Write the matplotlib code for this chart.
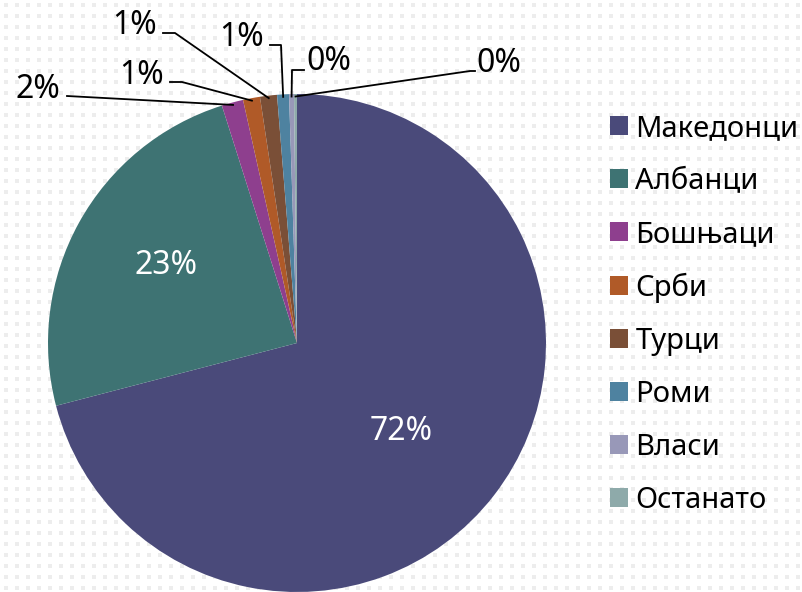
import numpy as np
import matplotlib.pyplot as plt

plt.rcParams['font.family'] = ['Noto Sans', 'DejaVu Sans']

groups = ['Македонци', 'Албанци', 'Бошњаци', 'Срби', 'Турци', 'Роми', 'Власи', 'Останато']
shares = [71.0, 24.2, 1.4, 1.1, 1.1, 0.77, 0.32, 0.19]
pct_labels = ['72%', '23%', '2%', '1%', '1%', '1%', '0%', '0%']
colors = ['#4a4a7a', '#3e7373', '#8e3f8e', '#b05a28', '#7a4f37', '#4e82a0', '#9898b8', '#8eaaaa']

W, H = 802, 592
fig = plt.figure(figsize=(W / 100, H / 100), dpi=100)

# dotted background pattern
bg = np.ones((H, W, 3))
yy, xx = np.mgrid[0:H, 0:W]
dots = ((xx - 4) % 11 < 4) & ((yy - 3) % 11 < 4)
bg[dots] = 0.93
fig.figimage(bg, 0, 0, zorder=-5)

cx, cy, r = 297, 343, 249

def px(x, y):
    # pixel position (from top-left) -> data coords of the pie axes
    return (x - cx) / r, (cy - y) / r

ax = fig.add_axes([(cx - r) / W, (H - cy - r) / H, 2 * r / W, 2 * r / H])
ax.patch.set_alpha(0)

wedges, _ = ax.pie(shares, colors=colors, startangle=90, counterclock=False,
                   radius=1, wedgeprops=dict(linewidth=0))
ax.set_xlim(-1, 1)
ax.set_ylim(-1, 1)
ax.axis('off')
for w in wedges:
    w.set_clip_on(False)

fs = 23

# inside labels
for i, pos in [(0, (401, 432)), (1, (166, 266))]:
    ax.text(*px(*pos), pct_labels[i], color='white', fontsize=fs, ha='center', va='center')

# outside labels: (text anchor, alignment, elbow points)
outside = {
    2: ((60, 89), 'right', [(67, 96)]),
    3: ((164, 75), 'right', [(170, 82), (182, 82)]),
    4: ((157, 26), 'right', [(163, 33), (175, 33)]),
    5: ((264, 37), 'right', [(270, 45), (281, 45)]),
    6: ((306, 61), 'left', [(304, 70), (292, 70)]),
    7: ((476, 63), 'left', [(475, 71), (470, 71)]),
}
for i, (tpos, ha, elbows) in outside.items():
    w = wedges[i]
    m = np.deg2rad((w.theta1 + w.theta2) / 2)
    pts = [px(*e) for e in elbows] + [(0.99 * np.cos(m), 0.99 * np.sin(m))]
    xs, ys = zip(*pts)
    ax.plot(xs, ys, color='black', lw=1.3, clip_on=False)
    ax.text(*px(*tpos), pct_labels[i], fontsize=fs, ha=ha, va='center', clip_on=False)

fig.legend(wedges, groups, loc='upper left', bbox_to_anchor=(610 / W, 1 - 114 / H),
           frameon=False, fontsize=21, handlelength=0.6, handleheight=0.6,
           handletextpad=0.27, labelspacing=0.82, borderaxespad=0, borderpad=0)

fig.savefig('out.png', dpi=100)
